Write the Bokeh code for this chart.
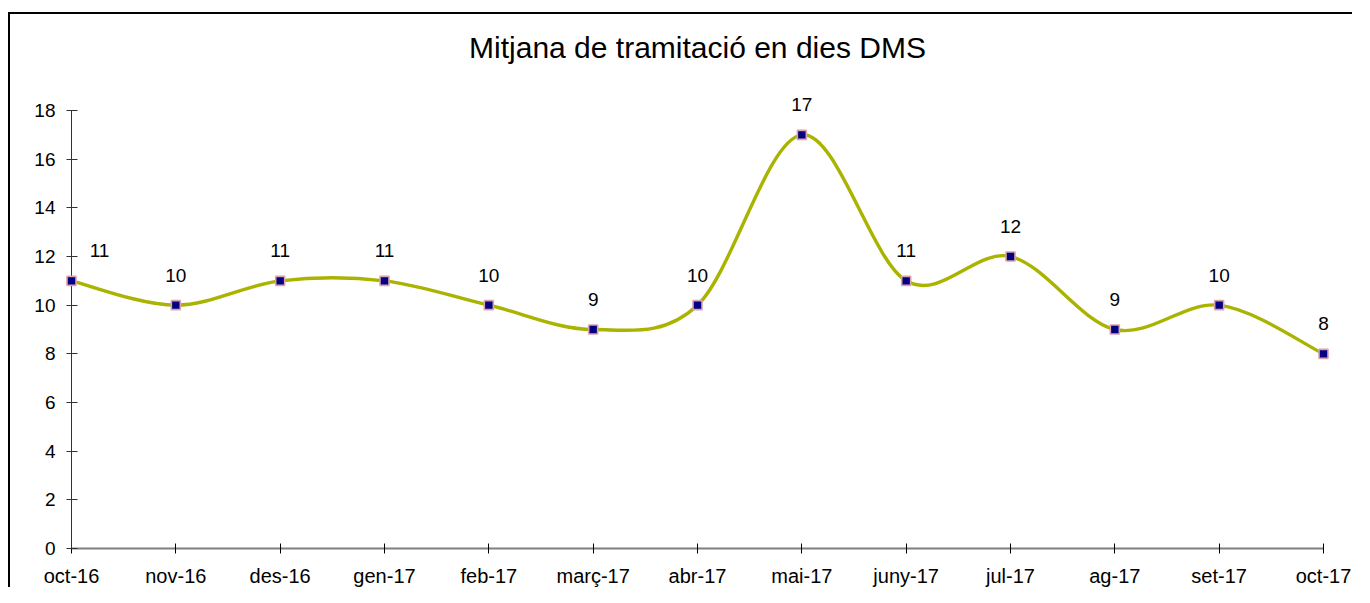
from bokeh.plotting import figure
from bokeh.models import Range1d, FixedTicker, ColumnDataSource
from bokeh.embed import file_html
from bokeh.resources import INLINE
from bokeh.core.properties import value

# ---- data ----
months = ["oct-16", "nov-16", "des-16", "gen-17", "feb-17", "març-17", "abr-17",
          "mai-17", "juny-17", "jul-17", "ag-17", "set-17", "oct-17"]
days = [11, 10, 11, 11, 10, 9, 10, 17, 11, 12, 9, 10, 8]
y_ticks = [0, 2, 4, 6, 8, 10, 12, 14, 16, 18]
title_text = "Mitjana de tramitació en dies DMS"

FONT = "Liberation Sans"
LINE_COLOR = "#a9b300"

xs = list(range(len(months)))
n = len(xs)

# Catmull-Rom style smoothing (as Excel "smoothed line"), control points from data
x0, y0, x1, y1, cx0, cy0, cx1, cy1 = [], [], [], [], [], [], [], []
for i in range(n - 1):
    pm = (xs[max(i - 1, 0)], days[max(i - 1, 0)])
    p0 = (xs[i], days[i])
    p1 = (xs[i + 1], days[i + 1])
    p2 = (xs[min(i + 2, n - 1)], days[min(i + 2, n - 1)])
    x0.append(p0[0]); y0.append(p0[1])
    x1.append(p1[0]); y1.append(p1[1])
    cx0.append(p0[0] + (p1[0] - pm[0]) / 6.0)
    cy0.append(p0[1] + (p1[1] - pm[1]) / 6.0)
    cx1.append(p1[0] - (p2[0] - p0[0]) / 6.0)
    cy1.append(p1[1] - (p2[1] - p0[1]) / 6.0)

W, H = 1344, 575
p = figure(width=W, height=H, output_backend="svg", toolbar_location=None,
           x_range=Range1d(xs[0], xs[-1]), y_range=Range1d(y_ticks[0], y_ticks[-1]),
           min_border_left=61, min_border_right=31, min_border_top=96,
           min_border_bottom=40)
p.margin = (12, 0, 0, 8)
p.styles = {"border-left": "2px solid black", "border-top": "2px solid black"}
p.outline_line_color = None
p.xgrid.visible = False
p.ygrid.visible = False
p.background_fill_color = "white"
p.border_fill_color = "white"

# axes
xa = p.xaxis[0]
xa.ticker = FixedTicker(ticks=xs)
xa.major_label_overrides = {i: m for i, m in enumerate(months)}
xa.axis_line_color = "#7f7f7f"
xa.axis_line_width = 2
xa.major_tick_line_color = "black"
xa.major_tick_in = 5
xa.major_tick_out = 5
xa.minor_tick_line_color = None
xa.major_label_standoff = 11
xa.major_label_text_font = FONT
xa.major_label_text_font_size = "20px"
xa.major_label_text_color = "black"

ya = p.yaxis[0]
ya.ticker = FixedTicker(ticks=y_ticks)
ya.axis_line_color = "#333333"
ya.axis_line_width = 1
ya.major_tick_line_color = "#333333"
ya.major_tick_in = 6
ya.major_tick_out = 5
ya.minor_tick_line_color = None
ya.major_label_standoff = 11
ya.major_label_text_font = FONT
ya.major_label_text_font_size = "19px"
ya.major_label_text_color = "black"

# smoothed line
p.bezier(x0=x0, y0=y0, x1=x1, y1=y1, cx0=cx0, cy0=cy0, cx1=cx1, cy1=cy1,
         line_color=LINE_COLOR, line_width=3.4, level="overlay")

# markers
src = ColumnDataSource(dict(x=xs, y=days, lbl=[str(d) for d in days],
                            xo=[28] + [0] * (n - 1)))
p.scatter("x", "y", source=src, marker="square", size=9, fill_color="#000080",
          line_color="#dca0b0", line_width=1.6, level="overlay")

# data labels
p.text("x", "y", text="lbl", source=src, x_offset="xo", y_offset=-30,
       text_align="center", text_baseline="middle",
       text_font=value(FONT), text_font_size="19px", text_color="black",
       level="overlay")

# title (centred over the category span, above the plot area)
p.text(x=[(xs[0] + xs[-1]) / 2], y=[20.58], text=[title_text],
       text_align="center", text_baseline="middle",
       text_font=value(FONT), text_font_size="30px", text_color="black",
       level="overlay")

open("out.html", "w").write(file_html(p, INLINE))
